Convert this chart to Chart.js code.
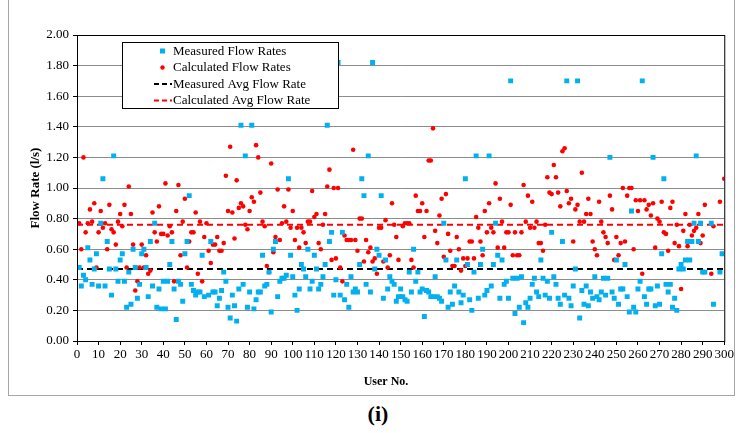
<!DOCTYPE html>
<html>
<head>
<meta charset="utf-8">
<script src="https://cdn.jsdelivr.net/npm/chart.js@4.4.0/dist/chart.umd.min.js"></script>
<style>
  body { margin: 0; background: #fff; width: 736px; height: 433px; position: relative; overflow: hidden; }
  #frame { position: absolute; left: 8px; top: -2px; width: 725px; height: 397px;
           border-left: 1.5px solid #a6a6a6; border-bottom: 1.5px solid #a6a6a6; border-right: 1.5px solid #a6a6a6; }
  #chart { position: absolute; left: 0; top: 0; }
  #cap { position: absolute; left: 10px; top: 401px; width: 736px; text-align: center;
         font: bold 22px "Liberation Serif", serif; color: #000; }
</style>
</head>
<body>
<div id="frame"></div>
<canvas id="chart" width="736" height="400"></canvas>
<div id="cap">(i)</div>
<script>
// values indexed by user number (0..300), null where no mark could be read
const measured = [
  null, 0.48, 0.36, 0.43, 0.40, 0.61, 0.53, 0.37, 0.47, 0.57,
  0.36, 0.77, 1.06, 0.36, 0.65, 0.47, 0.30, 1.21, 0.47, 0.39,
  0.53, 0.57, 0.39, 0.22, 0.45, 0.24, 0.60, 0.48, 0.28, 0.37,
  0.57, 0.60, 0.48, 0.29, 0.65, 0.36, 0.77, 0.22, 0.34, 0.21,
  0.39, 0.21, 0.39, 0.50, 0.65, 0.34, 0.14, 0.39, 0.37, 0.26,
  0.57, 0.65, 0.95, 0.37, 0.33, 0.30, 0.32, 0.32, 0.56, 0.29,
  null, 0.30, 0.65, 0.32, 0.32, 0.23, 0.28, 0.33, 0.45, 0.39,
  0.22, 0.15, 0.30, 0.23, 0.13, 0.34, 1.41, 0.37, 1.21, 0.22,
  0.32, 1.41, 0.21, 0.27, 0.32, 0.32, 0.56, 0.36, 0.37, 0.45,
  0.19, 0.60, 0.65, 0.29, 0.39, 0.41, 0.41, 0.43, 1.06, 0.56,
  0.42, 0.30, 0.20, 0.34, 0.50, 0.47, 0.42, 0.60, 0.34, 0.39,
  0.56, 0.47, 0.34, 0.37, 0.42, 0.50, 1.41, 0.65, 0.71, 0.30,
  0.40, 1.82, 0.30, 0.71, 0.27, 0.37, 0.22, 0.42, 0.32, 0.34,
  0.32, 0.50, 1.06, 0.95, 0.37, 1.21, 0.32, 1.82, 0.47, 0.60,
  0.56, 0.95, 0.28, 0.53, 0.34, 0.42, 0.39, 0.37, 0.26, 0.29,
  0.34, 0.29, 0.27, 0.26, 0.45, 0.32, 0.60, 0.39, 0.45, 0.32,
  0.34, 0.16, 0.33, 0.32, 0.29, 0.29, 0.42, 0.29, 0.28, 0.26,
  0.77, 0.53, 0.22, 0.32, 0.24, 0.36, 0.53, 0.32, 0.25, 0.30,
  1.06, 0.50, 0.27, 0.20, 0.45, 1.21, 0.28, 0.50, 0.60, 0.30,
  0.33, 1.21, 0.36, 0.50, 0.77, 0.56, 0.28, 0.53, 0.37, 0.39,
  0.28, 1.70, 0.41, 0.18, 0.41, 0.22, 0.42, 0.12, 0.25, 0.22,
  0.28, 0.37, 0.41, 0.32, 0.29, 0.53, 0.41, 0.30, 0.39, 0.28,
  0.71, 0.42, 0.37, 0.28, 0.24, 0.65, 0.30, 1.70, 0.28, 0.23,
  0.36, 0.47, 1.70, 0.15, 0.33, 0.24, 0.36, 0.23, 0.32, 0.28,
  0.42, 0.29, 0.27, 0.32, 0.41, 0.30, 0.41, 1.20, 0.32, 0.28,
  0.53, 0.24, 0.34, 0.34, 0.50, 0.29, 0.19, 0.85, 0.22, 0.19,
  0.34, 0.39, 1.70, 0.29, 0.24, 0.34, 0.34, 1.20, 0.23, 0.36,
  0.24, 0.57, 1.06, 0.37, 0.32, 0.37, 0.22, 0.28, 0.20, 0.47,
  0.50, 0.47, 0.53, 0.65, 0.53, 0.65, 0.77, 1.21, 0.65, 0.77,
  0.45, 0.45, null, null, 0.77, 0.24, null, null, 0.45, 0.57,
  null
];
const calculated = [
  null, 0.77, 0.60, 1.20, 0.71, 0.77, 0.86, 0.78, 0.90, 0.48,
  0.71, 0.85, 0.74, 0.77, 0.60, 0.89, 0.73, 0.71, 0.63, 0.78,
  0.83, 0.75, 0.89, 0.48, 1.01, 0.83, 0.63, 0.33, 0.39, 0.48,
  0.63, 0.48, 0.56, 0.44, 0.46, 0.84, 0.71, 0.65, 0.88, 0.70,
  0.70, 1.03, 0.69, 0.75, 0.71, 0.39, 0.85, 1.02, 0.56, 0.78,
  0.93, 0.48, 0.65, 0.71, 0.71, 0.84, 0.44, 0.78, 0.39, 0.68,
  0.77, 0.59, 0.51, 0.63, 0.63, 0.68, 0.59, 0.59, 0.64, 1.08,
  0.85, 1.27, 0.84, 0.67, 1.05, 0.87, 0.90, 0.88, 0.76, 0.73,
  0.85, 0.94, 0.91, 1.28, 1.20, 0.97, 0.78, 0.75, 0.49, 0.45,
  1.16, 0.58, 0.68, 0.99, 0.66, 0.77, 0.88, 0.78, 0.99, 0.74,
  0.85, 0.66, 0.74, 0.61, 0.74, 0.71, 0.64, 0.78, 0.78, 0.98,
  0.81, 0.83, 0.64, 0.60, 0.76, 0.83, 1.01, 1.12, 0.53, 1.00,
  0.54, 1.00, 0.48, 0.39, 0.69, 0.66, 0.66, 0.66, 1.25, 0.66,
  0.59, 0.80, 0.80, 0.52, 0.66, 0.58, 0.61, 0.52, 0.54, 0.44,
  0.74, 0.74, 0.52, 0.79, 0.48, 0.56, 0.90, 0.76, 0.68, 0.53,
  0.29, 0.75, 0.77, 0.77, 0.77, 0.53, 0.48, 0.95, 0.85, 0.85,
  0.90, 0.68, 0.85, 1.18, 1.18, 1.39, 0.72, 0.64, 0.82, 0.93,
  0.55, 0.96, 0.70, 0.59, 0.49, 0.49, 0.68, 0.60, 0.46, 0.54,
  0.49, 0.54, 0.65, 0.65, 0.54, 0.81, 0.74, 0.65, 0.56, 0.85,
  0.71, 0.90, 0.74, 0.71, 1.03, 0.61, 0.93, 0.78, 0.61, 0.71,
  0.71, 0.89, 0.56, 0.71, 0.56, 0.56, 0.71, 1.02, 0.78, 0.95,
  0.74, 0.91, 0.74, 0.78, 0.64, 0.64, 0.59, 0.76, 1.07, 0.97,
  0.96, 1.15, 1.07, 0.97, 0.88, 1.24, 1.26, 0.98, 0.90, 0.93,
  0.65, 0.86, 0.89, 0.78, 1.10, 0.78, 0.83, 0.93, 0.83, 0.65,
  0.60, 0.56, 0.91, 0.78, 0.71, 0.68, 0.64, 0.95, 0.86, 0.53,
  0.68, 0.56, 0.64, 1.00, 0.65, 0.95, 1.00, 1.00, 0.60, 0.92,
  0.85, 0.92, 0.44, 0.92, 0.86, 0.89, 0.82, 0.90, 0.61, 0.80,
  0.78, 0.91, 0.71, 0.70, 0.59, 0.87, 0.91, 0.64, 0.76, 0.62,
  0.34, 0.72, 0.83, 0.62, 0.76, 0.69, 0.72, 0.74, 0.83, 0.64,
  0.69, 0.89, null, null, 0.44, 0.75, null, null, 0.91, null,
  1.06
];
const measuredAvg = 0.47;
const calculatedAvg = 0.76;
const userRange = [0, 300];
const seriesNames = ['Measured Flow Rates', 'Calculated Flow Rates', 'Measured Avg Flow Rate', 'Calculated Avg Flow Rate'];
const xTitle = 'User No.';
const yTitle = 'Flow Rate (l/s)';

const BLUE = 'rgb(0, 176, 240)';
const RED = 'rgb(255, 0, 0)';
const FONT = '"Liberation Serif", "Times New Roman", serif';

function toPoints(arr) {
  const pts = [];
  arr.forEach((v, i) => { if (v !== null) pts.push({ x: i, y: v }); });
  return pts;
}

// black border round the plot area, plus the x title (sits a bit left of centre)
const plotBorder = {
  id: 'plotBorder',
  afterDraw(chart) {
    const { ctx, chartArea: a } = chart;
    ctx.save();
    ctx.strokeStyle = '#000';
    ctx.lineWidth = 1;
    ctx.strokeRect(a.left + 0.5, a.top + 0.5, a.right - a.left, a.bottom - a.top);
    ctx.fillStyle = '#000';
    ctx.font = 'bold 12px ' + FONT;
    ctx.textAlign = 'center';
    ctx.textBaseline = 'middle';
    ctx.fillText(xTitle, 386, 382);
    ctx.restore();
  }
};

// boxed legend inside the plot, like the spreadsheet one
const boxLegend = {
  id: 'boxLegend',
  afterDraw(chart) {
    const { ctx, chartArea: a } = chart;
    const x = a.left + 45, y = a.top + 7, w = 216, h = 66;
    ctx.save();
    ctx.fillStyle = '#fff';
    ctx.fillRect(x, y, w, h);
    ctx.strokeStyle = '#000';
    ctx.lineWidth = 1;
    ctx.strokeRect(x + 0.5, y + 0.5, w, h);
    ctx.font = '13px ' + FONT;
    ctx.textBaseline = 'middle';
    chart.data.datasets.forEach((ds, i) => {
      const ry = y + 9 + i * 16.5;
      if (ds.showLine) {
        ctx.strokeStyle = ds.borderColor;
        ctx.lineWidth = 2;
        ctx.setLineDash([5, 3]);
        ctx.beginPath();
        ctx.moveTo(x + 32, ry);
        ctx.lineTo(x + 50, ry);
        ctx.stroke();
        ctx.setLineDash([]);
      } else {
        ctx.fillStyle = ds.backgroundColor;
        if (ds.pointStyle === 'rect') {
          ctx.fillRect(x + 38, ry - 2.5, 5, 5);
        } else {
          ctx.beginPath();
          ctx.arc(x + 40.5, ry, 2.2, 0, Math.PI * 2);
          ctx.fill();
        }
      }
      ctx.fillStyle = '#000';
      ctx.fillText(ds.label, x + 51, ry + 0.5);
    });
    ctx.restore();
  }
};

new Chart(document.getElementById('chart'), {
  type: 'scatter',
  data: {
    datasets: [
      {
        label: seriesNames[0],
        data: toPoints(measured),
        pointStyle: 'rect',
        pointRadius: 3.5,
        backgroundColor: BLUE,
        borderWidth: 0
      },
      {
        label: seriesNames[1],
        data: toPoints(calculated),
        pointStyle: 'circle',
        pointRadius: 2.3,
        backgroundColor: RED,
        borderWidth: 0
      },
      {
        label: seriesNames[2],
        data: [{ x: userRange[0], y: measuredAvg }, { x: userRange[1], y: measuredAvg }],
        showLine: true,
        borderColor: '#000',
        borderWidth: 2,
        borderDash: [6, 4],
        pointRadius: 0
      },
      {
        label: seriesNames[3],
        data: [{ x: userRange[0], y: calculatedAvg }, { x: userRange[1], y: calculatedAvg }],
        showLine: true,
        borderColor: RED,
        borderWidth: 2,
        borderDash: [6, 4],
        pointRadius: 0
      }
    ]
  },
  options: {
    responsive: false,
    devicePixelRatio: 1,
    animation: false,
    layout: { padding: { top: 35, right: 10, left: 0, bottom: 0 } },
    plugins: { legend: { display: false }, tooltip: { enabled: false } },
    scales: {
      x: {
        type: 'linear',
        min: userRange[0],
        max: userRange[1],
        afterFit: s => { s.height = 59; },
        ticks: { stepSize: 10, autoSkip: false, maxRotation: 0, color: '#000', padding: 2,
                 font: { family: FONT, size: 13 } },
        grid: { drawOnChartArea: false, drawTicks: true, tickLength: 4, color: '#000' },
        border: { color: '#000', width: 1 }
      },
      y: {
        min: 0,
        max: 2,
        afterFit: s => { s.width = 77; },
        ticks: { stepSize: 0.2, color: '#000', padding: 4, callback: v => v.toFixed(2),
                 font: { family: FONT, size: 13 } },
        grid: { color: '#8c8c8c', lineWidth: 1, tickLength: 4, tickColor: '#000' },
        border: { color: '#000', width: 1 },
        title: { display: true, text: yTitle, color: '#000', padding: { top: 28, bottom: 0 },
                 font: { family: FONT, size: 13, weight: 'bold' } }
      }
    }
  },
  plugins: [plotBorder, boxLegend]
});
</script>
</body>
</html>
